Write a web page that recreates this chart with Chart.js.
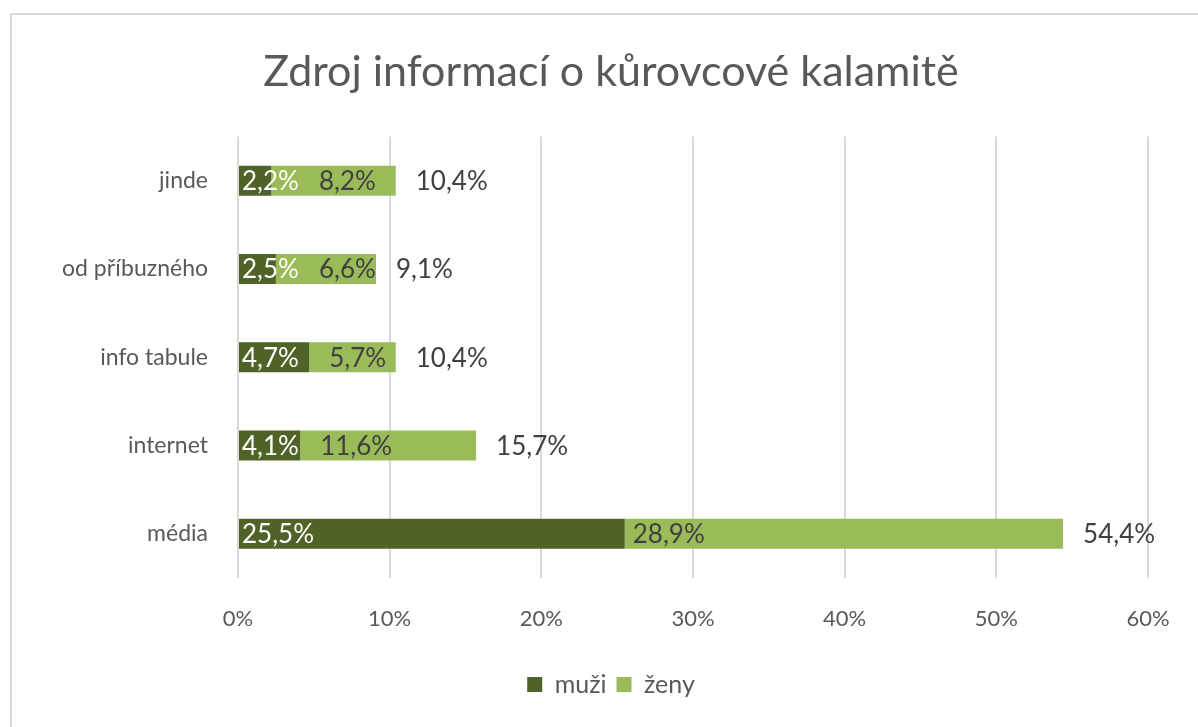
<!DOCTYPE html>
<html>
<head>
<meta charset="utf-8">
<script src="https://cdn.jsdelivr.net/npm/chart.js@4/dist/chart.umd.min.js"></script>
<style>
  html, body { margin: 0; padding: 0; background: #fff; }
  #wrap { position: relative; width: 1198px; height: 727px; overflow: hidden; }
  #ramecek { position: absolute; left: 10px; top: 13px; width: 1200px; height: 730px;
             border: 2px solid #d9d9d9; pointer-events: none; }
</style>
</head>
<body>
<div id="wrap">
  <canvas id="graf" width="1198" height="727"></canvas>
  <div id="ramecek"></div>
</div>
<script>
const kategorie = ["jinde", "od příbuzného", "info tabule", "internet", "média"];
const muzi = [2.2, 2.5, 4.7, 4.1, 25.5];
const zeny = [8.2, 6.6, 5.7, 11.6, 28.9];
const celkem = [10.4, 9.1, 10.4, 15.7, 54.4];
const osaX = [0, 10, 20, 30, 40, 50, 60];

const pismo = "Lato, 'Noto Sans', sans-serif";
const fmt = v => v.toFixed(1).replace(".", ",") + "%";

// popisky hodnot uvnitr a za sloupci
const popisky = {
  id: "popisky",
  afterDatasetsDraw(chart) {
    const ctx = chart.ctx;
    ctx.save();
    ctx.font = "26px " + pismo;
    ctx.textBaseline = "middle";
    ctx.textAlign = "left";

    const mM = chart.getDatasetMeta(0);
    const mZ = chart.getDatasetMeta(1);
    mZ.data.forEach((el, i) => {
      const w = el.x - el.base;
      const konecM = mM.data[i].base + 3 + ctx.measureText(fmt(muzi[i])).width;
      const x = w > 300 ? el.base + 8 : Math.max(el.base + 20, konecM + 20);
      ctx.fillStyle = "#404040";
      ctx.fillText(fmt(zeny[i]), x, el.y + 1);
      ctx.fillText(fmt(celkem[i]), el.x + 20, el.y + 1);
    });

    mM.data.forEach((el, i) => {
      ctx.fillStyle = "#ffffff";
      ctx.fillText(fmt(muzi[i]), el.base + 3, el.y + 1);
    });
    ctx.restore();
  }
};

new Chart(document.getElementById("graf").getContext("2d"), {
  type: "bar",
  data: {
    labels: kategorie,
    datasets: [
      { label: "muži", data: muzi, backgroundColor: "#4f6228" },
      { label: "ženy", data: zeny, backgroundColor: "#9bbb59" }
    ]
  },
  options: {
    indexAxis: "y",
    responsive: false,
    animation: false,
    categoryPercentage: 1,
    barPercentage: 0.34,
    layout: { padding: { left: 24, right: 0, top: 0, bottom: 20 } },
    scales: {
      x: {
        stacked: true,
        min: 0,
        max: 60,
        afterBuildTicks: s => { s.ticks = osaX.map(v => ({ value: v })); },
        afterFit: s => { s.height = 84; },
        grid: { color: "#d9d9d9", lineWidth: 2, drawTicks: false },
        border: { display: false },
        ticks: {
          padding: 28,
          color: "#595959",
          font: { family: pismo, size: 22 },
          callback: v => v + "%"
        }
      },
      y: {
        stacked: true,
        afterFit: s => { s.width = 214; },
        grid: { display: false, drawTicks: false },
        border: { display: false },
        ticks: {
          padding: 30,
          color: "#595959",
          font: { family: pismo, size: 23 }
        }
      },
      // prazdne misto vpravo pro popisky souctu
      y2: {
        position: "right",
        afterFit: s => { s.width = 50; },
        grid: { display: false, drawTicks: false },
        border: { display: false },
        ticks: { display: false }
      }
    },
    plugins: {
      title: {
        display: true,
        text: "Zdroj informací o kůrovcové kalamitě",
        color: "#595959",
        font: { family: pismo, size: 43, weight: "normal" },
        padding: { top: 46, bottom: 39 }
      },
      legend: {
        position: "bottom",
        labels: {
          color: "#595959",
          font: { family: pismo, size: 25 },
          boxWidth: 15,
          boxHeight: 15,
          padding: 10
        }
      },
      tooltip: { enabled: false }
    }
  },
  plugins: [popisky]
});
</script>
</body>
</html>
